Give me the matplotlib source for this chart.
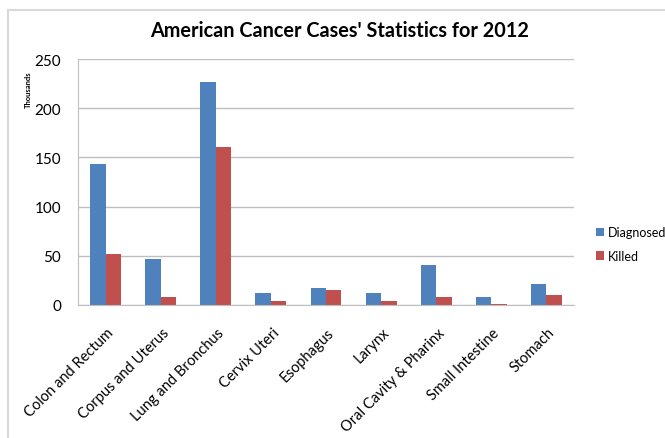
import matplotlib
matplotlib.use("Agg")
import matplotlib.pyplot as plt
import matplotlib.transforms as mtransforms
import numpy as np
from matplotlib.patches import Rectangle

plt.rcParams['font.family'] = ['Lato', 'DejaVu Sans']

categories = ["Colon and Rectum", "Corpus and Uterus", "Lung and Bronchus",
              "Cervix Uteri", "Esophagus", "Larynx", "Oral Cavity & Pharinx",
              "Small Intestine", "Stomach"]
diagnosed = [143.46, 47.13, 226.16, 12.17, 17.46, 12.36, 40.25, 8.07, 21.32]
killed = [51.69, 8.01, 160.34, 4.22, 15.07, 3.65, 7.85, 1.15, 10.54]
yticks = [0, 50, 100, 150, 200, 250]

W, H = 665, 439
fig = plt.figure(figsize=(W / 100, H / 100), dpi=100)

# chart-area border (runs off the right and bottom edges)
fig.patches.append(Rectangle((8 / W, -0.1), 1.2, 1 - 11 / H + 0.1,
                             transform=fig.transFigure, fill=False,
                             edgecolor="#D9D9D9", linewidth=1.5))

ax = fig.add_axes([78 / W, 1 - 306 / H, (574 - 78) / W, (306 - 60) / H])
x = np.arange(len(categories))
bw = 0.28
ax.bar(x - bw / 2, diagnosed, bw, color="#4F81BD", label="Diagnosed")
ax.bar(x + bw / 2, killed, bw, color="#C0504D", label="Killed")

ax.set_xlim(-0.5, len(categories) - 0.5)
ax.set_ylim(0, 250)
ax.set_yticks(yticks)
ax.set_yticklabels([str(t) for t in yticks], fontsize=11)
ax.yaxis.grid(True, color="#BFBFBF", linewidth=1)
ax.set_axisbelow(True)
for s in ["top", "right"]:
    ax.spines[s].set_visible(False)
for s in ["left", "bottom"]:
    ax.spines[s].set_color("#BFBFBF")
ax.tick_params(axis="y", length=0, pad=12)
ax.tick_params(axis="x", length=0, pad=18)
ax.set_xticks(x)
ax.set_xticklabels(categories, rotation=45, ha="right", va="center",
                   rotation_mode="anchor", fontsize=10.5)
shift = mtransforms.ScaledTranslation(6 / 100, 0, fig.dpi_scale_trans)
for lbl in ax.get_xticklabels():
    lbl.set_transform(lbl.get_transform() + shift)

fig.text(28 / W, 1 - 90 / H, "Thousands", rotation=90, fontsize=5.5,
         fontweight="bold", ha="center", va="center")
fig.text(340 / W, 1 - 31 / H, "American Cancer Cases' Statistics for 2012",
         fontsize=14.3, fontweight="bold", ha="center", va="center")

ax.legend(loc="center left", bbox_to_anchor=(596 / W, 1 - 245 / H),
          bbox_transform=fig.transFigure, frameon=False, fontsize=9,
          handlelength=0.65, handleheight=0.65, handletextpad=0.3,
          labelspacing=0.95, borderaxespad=0, borderpad=0)

fig.savefig("out.png", dpi=100)
